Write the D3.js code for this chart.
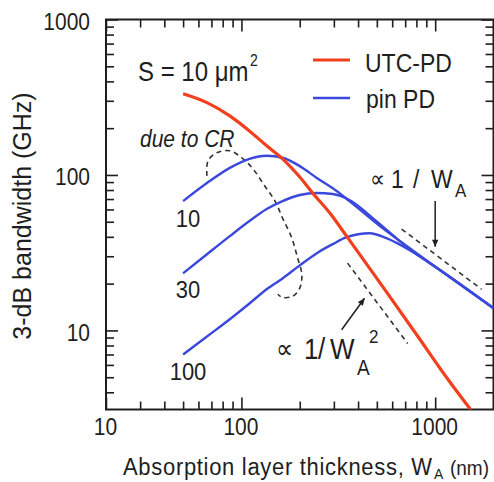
<!DOCTYPE html>
<html>
<head>
<meta charset="utf-8">
<script src="https://cdn.jsdelivr.net/npm/d3@7/dist/d3.min.js"></script>
<style>
html,body{margin:0;padding:0;background:#fff;}
svg{display:block;}
text{font-family:"Liberation Sans",Arial,Helvetica,sans-serif;fill:#1e1e1e;}
</style>
</head>
<body>
<svg id="chart" width="494" height="482"></svg>
<script>
// ---------------- data ----------------
const xTickValues = [20, 100, 1000];
const xTickLabels = ["10", "100", "1000"];
const yTickValues = [10, 100, 1000];
const yTickLabels = ["10", "100", "1000"];
const xMinorTicks = [30,40,50,60,70,80,90,200,300,400,500,600,700,800,900];
const yMinorTicks = [4,5,6,7,8,9,20,30,40,50,60,70,80,90,200,300,400,500,600,700,800,900];

const seriesNames = ["UTC-PD", "pin PD"];

const utcX = [50, 66.4, 87.1, 110, 135, 163, 200, 233, 286, 349, 535, 801, 1186, 1538];
const utcY = [333, 292, 240, 192, 154, 127, 97, 76.6, 56.9, 40.4, 19.2, 9.42, 4.69, 3.05];

const pinLabels = ["10", "30", "100"];
const pinX10  = [50, 66.4, 87.1, 110, 135, 163, 200, 245, 310, 361, 535, 739, 1000, 2000];
const pinY10  = [67.9, 88.7, 111, 127, 133, 129, 114, 95.7, 78.9, 67.9, 45.5, 33.8, 25.7, 13.9];
const pinX30  = [50, 66.4, 87.1, 110, 135, 163, 200, 245, 296, 361, 497, 739, 1000, 2000];
const pinY30  = [23.3, 30.9, 40.4, 50.5, 60.4, 67.9, 74.3, 76.5, 75.4, 69.0, 50.5, 33.3, 25.7, 13.9];
const pinX100 = [50, 66.4, 87.1, 110, 135, 163, 200, 245, 296, 349, 460, 560, 739, 1000, 2000];
const pinY100 = [7.0, 9.14, 11.8, 14.9, 18.4, 21.6, 26.2, 31.4, 35.9, 39.8, 42.2, 39.2, 32.8, 25.7, 13.9];

// "due to CR" dashed envelope
const crX = [66.4, 67.2, 74.7, 87.1, 100.5, 115, 132, 149, 163, 182, 195, 205, 200, 184, 163, 154];
const crY = [98.6, 123, 139, 143, 129, 109, 84.9, 67.9, 52.8, 39.3, 29.2, 23.0, 18.7, 16.6, 16.3, 17.1];

// guide lines  ∝ 1/W_A^2  and  ∝ 1/W_A
const sq2X = [353, 721];
const sq2Y = [27.1, 8.24];
const invX = [671, 1734];
const invY = [44.9, 18.4];

// arrows
const arrow1X = [1000, 1000];
const arrow1Y = [67.9, 34.5];
const arrow2X = [329, 432];
const arrow2Y = [10.1, 16.1];

// ---------------- drawing ----------------
const S = 1.12; // vertical stretch of lettering in the reference
const RED = "#f2401f", BLUE = "#3a48dc", INK = "#1e1e1e";

const svg = d3.select("#chart");
const L = 106, R = 493.5, T = 19.5, B = 409.5;
const x = d3.scaleLog().domain([20, 2000]).range([L, R]);
const y = d3.scaleLog().domain([3.1, 1000]).range([B, T]);

const defs = svg.append("defs");
defs.append("clipPath").attr("id", "plot").append("rect")
  .attr("x", L).attr("y", T).attr("width", R - L).attr("height", B - T);
defs.append("marker").attr("id", "ah").attr("viewBox", "0 0 10 10")
  .attr("refX", 10).attr("refY", 5).attr("markerWidth", 8).attr("markerHeight", 7)
  .attr("markerUnits", "userSpaceOnUse").attr("orient", "auto")
  .append("path").attr("d", "M0,0.5 L10,5 L0,9.5 Z").attr("fill", INK);

const zip = (xs, ys) => xs.map((v, i) => [v, ys[i]]);
const line = d3.line().x(d => x(d[0])).y(d => y(d[1])).curve(d3.curveMonotoneX);
const lineCR = d3.line().x(d => x(d[0])).y(d => y(d[1])).curve(d3.curveCatmullRom.alpha(0.5));
const lineStraight = d3.line().x(d => x(d[0])).y(d => y(d[1]));

// axes / ticks
function styleAxis(g) {
  g.select(".domain").remove();
  g.selectAll(".tick line").attr("stroke", INK).attr("stroke-width", 1.6);
}
const fmtX = (d) => xTickLabels[xTickValues.indexOf(d)];
const fmtY = (d) => yTickLabels[yTickValues.indexOf(d)];

const gB = svg.append("g").attr("transform", `translate(0,${B})`)
  .call(d3.axisBottom(x).tickValues(xTickValues).tickSize(-12).tickFormat(fmtX)).call(styleAxis);
svg.append("g").attr("transform", `translate(0,${B})`)
  .call(d3.axisBottom(x).tickValues(xMinorTicks).tickSize(-8).tickFormat("")).call(styleAxis);
svg.append("g").attr("transform", `translate(0,${T})`)
  .call(d3.axisTop(x).tickValues(xTickValues).tickSize(-12).tickFormat("")).call(styleAxis);
svg.append("g").attr("transform", `translate(0,${T})`)
  .call(d3.axisTop(x).tickValues(xMinorTicks).tickSize(-8).tickFormat("")).call(styleAxis);

const gL = svg.append("g").attr("transform", `translate(${L},0)`)
  .call(d3.axisLeft(y).tickValues(yTickValues).tickSize(-12).tickFormat(fmtY)).call(styleAxis);
svg.append("g").attr("transform", `translate(${L},0)`)
  .call(d3.axisLeft(y).tickValues(yMinorTicks).tickSize(-8).tickFormat("")).call(styleAxis);
svg.append("g").attr("transform", `translate(${R},0)`)
  .call(d3.axisRight(y).tickValues(yTickValues).tickSize(-12).tickFormat("")).call(styleAxis);
svg.append("g").attr("transform", `translate(${R},0)`)
  .call(d3.axisRight(y).tickValues(yMinorTicks).tickSize(-8).tickFormat("")).call(styleAxis);

gB.selectAll(".tick text")
  .attr("y", null).attr("dy", null).attr("x", null)
  .attr("fill", INK).attr("font-size", 21).attr("font-family", '"Liberation Sans",Arial,sans-serif')
  .attr("text-anchor", "middle")
  .attr("transform", `translate(-1,25.5) scale(1,${S})`);
gL.selectAll(".tick text")
  .attr("y", null).attr("dy", null).attr("x", null)
  .attr("fill", INK).attr("font-size", 21).attr("font-family", '"Liberation Sans",Arial,sans-serif')
  .attr("text-anchor", "end")
  .attr("transform", `translate(-16,10) scale(1,${S})`);

// frame
svg.append("rect").attr("x", L).attr("y", T).attr("width", R - L).attr("height", B - T)
  .attr("fill", "none").attr("stroke", INK).attr("stroke-width", 2);

// curves
const plot = svg.append("g").attr("clip-path", "url(#plot)");

plot.append("path").datum(zip(crX, crY)).attr("d", lineCR)
  .attr("fill", "none").attr("stroke", "#333").attr("stroke-width", 1.6).attr("stroke-dasharray", "5,4");
plot.append("path").datum(zip(sq2X, sq2Y)).attr("d", lineStraight)
  .attr("fill", "none").attr("stroke", "#333").attr("stroke-width", 1.6).attr("stroke-dasharray", "5,4");
plot.append("path").datum(zip(invX, invY)).attr("d", lineStraight)
  .attr("fill", "none").attr("stroke", "#333").attr("stroke-width", 1.6).attr("stroke-dasharray", "5,4");

[[pinX10, pinY10], [pinX30, pinY30], [pinX100, pinY100]].forEach(([xs, ys]) => {
  plot.append("path").datum(zip(xs, ys)).attr("d", line)
    .attr("fill", "none").attr("stroke", BLUE).attr("stroke-width", 2.4).attr("stroke-linejoin", "round");
});
plot.append("path").datum(zip(utcX, utcY)).attr("d", line)
  .attr("fill", "none").attr("stroke", RED).attr("stroke-width", 3.2).attr("stroke-linejoin", "round");

// arrows
[[arrow1X, arrow1Y], [arrow2X, arrow2Y]].forEach(([xs, ys]) => {
  svg.append("path").datum(zip(xs, ys)).attr("d", lineStraight)
    .attr("fill", "none").attr("stroke", INK).attr("stroke-width", 1.5).attr("marker-end", "url(#ah)");
});

// text helper: parts = [{t, x, dy, size, italic, family}]
function label(x0, y0, parts, stretch = S, anchor = "start") {
  const g = svg.append("g").attr("transform", `translate(${x0},${y0}) scale(1,${stretch})`);
  const t = g.append("text").attr("text-anchor", anchor).attr("fill", INK);
  parts.forEach(p => {
    const ts = t.append("tspan").text(p.t).attr("font-size", p.size);
    if (p.x !== undefined) ts.attr("x", p.x);
    ts.attr("y", (p.dy || 0) / stretch);
    if (p.italic) ts.attr("font-style", "italic");
    if (p.family) ts.attr("font-family", p.family);
    if (p.len) ts.attr("textLength", p.len).attr("lengthAdjust", "spacing");
  });
  return t;
}

// legend
svg.append("line").attr("x1", 313).attr("x2", 350).attr("y1", 60).attr("y2", 60)
  .attr("stroke", RED).attr("stroke-width", 3.2);
svg.append("line").attr("x1", 313).attr("x2", 350).attr("y1", 98).attr("y2", 98)
  .attr("stroke", BLUE).attr("stroke-width", 2.6);
label(365, 72, [{t: seriesNames[0], size: 23}]);
label(366, 108, [{t: seriesNames[1], size: 23}]);

// annotations
label(138, 81, [{t: "S = 10 \u03BCm", size: 24, x: 0}, {t: "2", size: 14, x: 112, dy: -15}]);
label(140, 147, [{t: "due to CR", size: 21, italic: true}]);
label(188, 227, [{t: pinLabels[0], size: 22}], S, "middle");
label(188, 298, [{t: pinLabels[1], size: 22}], S, "middle");
label(188, 380, [{t: pinLabels[2], size: 22}], S, "middle");

label(370, 188, [
  {t: "\u221D", size: 21, x: 0, dy: -1, family: '"DejaVu Sans",sans-serif'},
  {t: "1", size: 23, x: 21, dy: 0},
  {t: "/", size: 23, x: 43, dy: 0},
  {t: "W", size: 23, x: 61, dy: 0},
  {t: "A", size: 17, x: 85, dy: 9}
]);
label(276, 359, [
  {t: "\u221D", size: 24, x: 0, dy: -1, family: '"DejaVu Sans",sans-serif'},
  {t: "1", size: 26, x: 28, dy: 0},
  {t: "/", size: 26, x: 42, dy: 0},
  {t: "W", size: 26, x: 54, dy: 0},
  {t: "A", size: 19, x: 81, dy: 16},
  {t: "2", size: 17, x: 93, dy: -16}
]);

// axis titles
label(123, 475, [
  {t: "Absorption layer thickness, W", size: 22, x: 0, len: 309},
  {t: "A", size: 14, x: 311, dy: 4},
  {t: "(nm)", size: 19, x: 327, dy: 0}
], 1.05);

svg.append("text")
  .attr("transform", `translate(31,216) rotate(-90)`)
  .attr("text-anchor", "middle").attr("font-size", 25).attr("fill", INK)
  .text("3-dB bandwidth (GHz)");
</script>
</body>
</html>
